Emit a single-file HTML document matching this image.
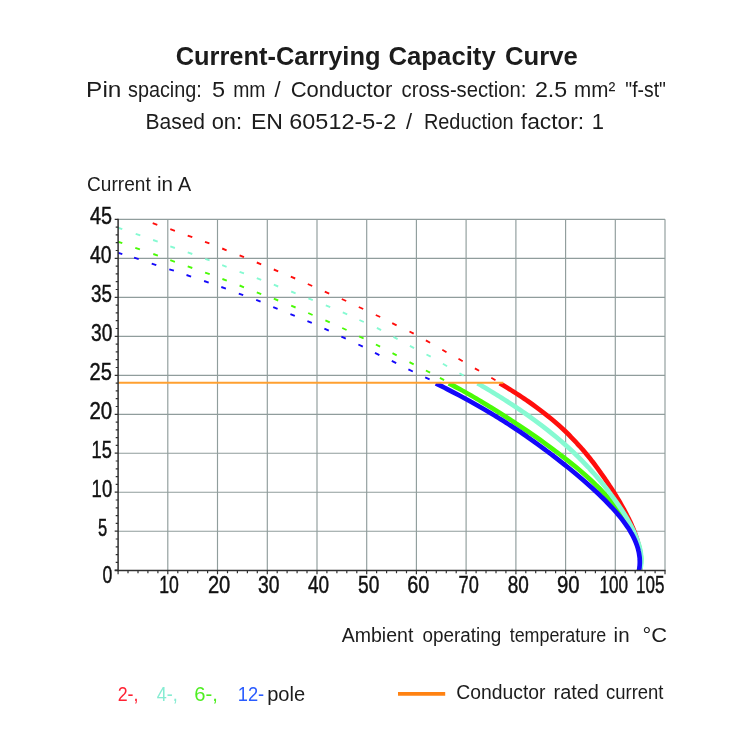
<!DOCTYPE html>
<html lang="en"><head><meta charset="utf-8"><title>Current-Carrying Capacity Curve</title>
<style>html,body{margin:0;padding:0;background:#fff}svg{display:block}text{font-family:"Liberation Sans",sans-serif;fill:#1c1c1c}.n{fill:#111;stroke:#111;stroke-width:.45px}</style></head><body>
<svg width="750" height="750" viewBox="0 0 750 750">
<rect width="750" height="750" fill="#fff"/>
<path d="M167.8 219.3V570.6M217.5 219.3V570.6M267.3 219.3V570.6M317.0 219.3V570.6M366.7 219.3V570.6M416.4 219.3V570.6M466.1 219.3V570.6M515.9 219.3V570.6M565.6 219.3V570.6M615.3 219.3V570.6M665.0 219.3V570.6M118.1 531.2H665.0M118.1 492.2H665.0M118.1 453.2H665.0M118.1 414.3H665.0M118.1 375.3H665.0M118.1 336.3H665.0M118.1 297.3H665.0M118.1 258.3H665.0M118.1 219.3H665.0" stroke="#909d9c" stroke-width="1.15" fill="none"/>
<clipPath id="c"><rect x="118.1" y="219.3" width="546.9" height="351.3"/></clipPath>
<g clip-path="url(#c)">
<path d="M152.7 223.2L157.3 224.8M170.3 229.2L174.9 230.8M187.7 235.6L192.3 237.2M205.0 241.8L209.4 243.4M222.2 248.5L226.6 250.3M239.6 255.3L244.0 257.1M256.8 262.5L261.2 264.3M273.8 269.5L278.2 271.3M290.8 276.7L295.2 278.5M307.8 284.0L312.2 286.0M324.8 291.6L329.2 293.6M341.8 299.0L346.2 301.0M358.8 307.0L363.2 309.0M375.8 315.0L380.2 317.0M392.2 323.1L396.6 325.3M409.5 331.5L413.7 333.7M425.9 340.4L430.1 342.8M442.3 349.8L446.5 352.2M458.5 358.8L462.7 361.2M474.9 368.4L479.1 370.8M491.3 377.8L495.5 380.2" stroke="#ff0e0c" stroke-width="1.9" fill="none"/>
<path d="M117.7 227.6L122.3 229.2M135.7 233.8L140.3 235.4M153.1 240.0L157.7 241.6M170.3 246.4L174.9 248.0M187.7 252.4L192.3 254.0M205.2 258.8L209.6 260.4M222.2 265.2L226.6 266.8M239.6 271.8L244.0 273.4M256.8 278.1L261.2 279.9M273.8 284.7L278.2 286.5M291.2 291.5L295.6 293.3M308.4 298.3L312.8 300.1M325.8 305.3L330.2 307.1M342.8 312.4L347.2 314.4M359.4 320.0L363.8 322.0M376.9 327.9L381.1 330.1M393.4 336.9L397.6 339.1M409.9 345.9L414.1 348.1M426.5 354.5L430.7 356.7M442.9 363.8L447.1 366.2M459.5 373.2L463.7 375.6" stroke="#86fad2" stroke-width="1.9" fill="none"/>
<path d="M117.7 241.6L122.3 243.2M135.3 247.8L139.9 249.4M153.3 254.0L157.9 255.6M170.3 260.2L174.9 261.8M187.7 266.4L192.3 268.0M205.1 272.6L209.7 274.2M222.4 279.0L226.8 280.6M239.6 285.5L244.0 287.3M256.8 292.3L261.2 294.1M273.8 298.7L278.2 300.5M291.2 305.7L295.6 307.5M308.2 313.0L312.6 315.0M325.4 320.4L329.8 322.4M342.2 328.0L346.6 330.0M359.2 336.3L363.6 338.5M375.9 344.5L380.1 346.7M392.5 353.1L396.7 355.3M409.5 362.1L413.7 364.3M425.9 370.5L430.1 372.7M439.9 377.9L444.1 380.1" stroke="#4afa06" stroke-width="1.9" fill="none"/>
<path d="M117.7 252.7L122.3 254.1M134.1 257.7L138.7 259.1M151.7 263.6L156.3 265.2M169.3 269.3L173.9 270.7M186.5 275.0L191.1 276.6M204.1 281.0L208.7 282.6M221.3 287.0L225.9 288.6M238.8 293.6L243.2 295.2M256.2 299.9L260.6 301.7M273.2 307.1L277.6 308.9M290.4 314.1L294.8 315.9M307.4 321.1L311.8 322.9M324.4 328.6L328.8 330.6M341.4 336.6L345.8 338.6M358.4 344.5L362.8 346.7M375.0 352.9L379.4 355.1M391.8 360.9L396.2 363.1M408.4 369.3L412.8 371.5M425.2 377.4L429.6 379.4" stroke="#1408fa" stroke-width="1.9" fill="none"/>
</g>
<clipPath id="s"><rect x="118.1" y="382.4" width="546.9" height="188.2"/></clipPath>
<g clip-path="url(#s)">
<path d="M499.8 383.3C501.4 384.3 506.4 387.3 509.6 389.3C512.9 391.3 516.0 393.3 519.1 395.3C522.1 397.3 525.1 399.3 528.0 401.3C530.9 403.3 533.7 405.3 536.5 407.3C539.2 409.3 541.8 411.3 544.4 413.3C547.0 415.3 549.4 417.3 551.8 419.3C554.2 421.3 556.5 423.3 558.8 425.3C561.0 427.3 563.2 429.3 565.3 431.3C567.4 433.3 569.4 435.3 571.3 437.3C573.3 439.3 575.2 441.3 577.0 443.3C578.9 445.3 580.6 447.3 582.4 449.3C584.1 451.3 585.8 453.3 587.4 455.3C589.1 457.3 590.7 459.3 592.2 461.3C593.8 463.3 595.3 465.3 596.8 467.3C598.3 469.3 599.7 471.3 601.1 473.3C602.6 475.3 604.0 477.3 605.3 479.3C606.7 481.3 608.0 483.3 609.3 485.3C610.7 487.3 612.0 489.3 613.2 491.3C614.5 493.3 615.7 495.3 616.9 497.3C618.2 499.3 619.3 501.3 620.5 503.3C621.6 505.3 622.8 507.3 623.9 509.3C625.0 511.3 626.0 513.3 627.0 515.3C628.1 517.3 629.0 519.3 630.0 521.3C630.9 523.3 631.8 525.3 632.6 527.3C633.5 529.3 634.3 531.3 635.0 533.3C635.7 535.3 636.4 537.3 637.0 539.3C637.6 541.3 638.2 543.3 638.6 545.3C639.1 547.3 639.5 549.3 639.8 551.3C640.1 553.3 640.3 556.0 640.4 557.3C640.6 558.6 640.5 558.6 640.6 559.3C640.6 560.0 640.6 560.6 640.6 561.3C640.6 562.0 640.6 562.6 640.6 563.3C640.6 564.0 640.6 564.6 640.5 565.3C640.5 566.0 640.4 566.6 640.4 567.3C640.3 568.0 640.3 568.6 640.2 569.3C640.1 570.0 640.0 571.0 639.9 571.3" stroke="#ff0e0c" stroke-width="4.7" fill="none" stroke-linejoin="round"/>
<path d="M448.8 383.3C450.7 384.3 456.4 387.3 460.0 389.3C463.7 391.3 467.2 393.3 470.7 395.3C474.1 397.3 477.5 399.3 480.8 401.3C484.2 403.3 487.4 405.3 490.7 407.3C493.9 409.3 497.1 411.3 500.3 413.3C503.4 415.3 506.5 417.3 509.6 419.3C512.7 421.3 515.7 423.3 518.7 425.3C521.7 427.3 524.7 429.3 527.7 431.3C530.6 433.3 533.5 435.3 536.4 437.3C539.3 439.3 542.1 441.3 544.9 443.3C547.7 445.3 550.4 447.3 553.1 449.3C555.8 451.3 558.5 453.3 561.1 455.3C563.7 457.3 566.3 459.3 568.8 461.3C571.3 463.3 573.8 465.3 576.2 467.3C578.6 469.3 580.9 471.3 583.2 473.3C585.5 475.3 587.7 477.3 589.9 479.3C592.1 481.3 594.2 483.3 596.2 485.3C598.3 487.3 600.3 489.3 602.2 491.3C604.1 493.3 606.0 495.3 607.8 497.3C609.6 499.3 611.4 501.3 613.1 503.3C614.8 505.3 616.4 507.3 617.9 509.3C619.5 511.3 621.0 513.3 622.4 515.3C623.9 517.3 625.3 519.3 626.6 521.3C627.9 523.3 629.1 525.3 630.3 527.3C631.4 529.3 632.5 531.3 633.5 533.3C634.5 535.3 635.5 537.3 636.3 539.3C637.2 541.3 637.9 543.3 638.6 545.3C639.2 547.3 639.7 549.3 640.1 551.3C640.5 553.3 640.8 556.0 640.9 557.3C641.1 558.6 641.0 558.6 641.0 559.3C641.0 560.0 641.0 560.6 640.9 561.3C640.9 562.0 640.8 562.6 640.8 563.3C640.7 564.0 640.6 564.6 640.5 565.3C640.3 566.0 640.2 566.6 640.0 567.3C639.8 568.0 639.7 568.6 639.4 569.3C639.2 570.0 638.8 571.0 638.7 571.3" stroke="#4afa06" stroke-width="4.7" fill="none" stroke-linejoin="round"/>
<path d="M477.6 383.3C479.2 384.3 484.3 387.3 487.6 389.3C490.9 391.3 494.2 393.3 497.4 395.3C500.7 397.3 503.8 399.3 506.9 401.3C510.0 403.3 513.1 405.3 516.1 407.3C519.1 409.3 522.0 411.3 524.9 413.3C527.8 415.3 530.6 417.3 533.4 419.3C536.1 421.3 538.8 423.3 541.5 425.3C544.1 427.3 546.7 429.3 549.2 431.3C551.7 433.3 554.1 435.3 556.5 437.3C558.9 439.3 561.3 441.3 563.5 443.3C565.8 445.3 568.0 447.3 570.2 449.3C572.4 451.3 574.5 453.3 576.5 455.3C578.6 457.3 580.6 459.3 582.6 461.3C584.5 463.3 586.4 465.3 588.3 467.3C590.1 469.3 592.0 471.3 593.7 473.3C595.5 475.3 597.2 477.3 598.9 479.3C600.6 481.3 602.3 483.3 603.9 485.3C605.5 487.3 607.0 489.3 608.6 491.3C610.1 493.3 611.6 495.3 613.0 497.3C614.5 499.3 615.9 501.3 617.3 503.3C618.7 505.3 620.0 507.3 621.3 509.3C622.6 511.3 623.9 513.3 625.1 515.3C626.3 517.3 627.5 519.3 628.6 521.3C629.7 523.3 630.8 525.3 631.8 527.3C632.8 529.3 633.8 531.3 634.6 533.3C635.5 535.3 636.4 537.3 637.1 539.3C637.8 541.3 638.5 543.3 639.1 545.3C639.7 547.3 640.1 549.3 640.5 551.3C640.9 553.3 641.1 556.0 641.3 557.3C641.4 558.6 641.3 558.6 641.3 559.3C641.3 560.0 641.3 560.6 641.3 561.3C641.3 562.0 641.3 562.6 641.2 563.3C641.2 564.0 641.1 564.6 641.0 565.3C640.9 566.0 640.8 566.6 640.7 567.3C640.5 568.0 640.4 568.6 640.2 569.3C640.0 570.0 639.7 571.0 639.6 571.3" stroke="#86fad2" stroke-width="4.7" fill="none" stroke-linejoin="round"/>
<path d="M435.9 383.3C437.8 384.3 443.8 387.3 447.6 389.3C451.5 391.3 455.3 393.3 459.0 395.3C462.7 397.3 466.4 399.3 470.0 401.3C473.6 403.3 477.1 405.3 480.6 407.3C484.1 409.3 487.5 411.3 490.8 413.3C494.1 415.3 497.4 417.3 500.6 419.3C503.8 421.3 507.0 423.3 510.1 425.3C513.1 427.3 516.2 429.3 519.2 431.3C522.1 433.3 525.1 435.3 527.9 437.3C530.8 439.3 533.6 441.3 536.4 443.3C539.2 445.3 541.9 447.3 544.6 449.3C547.3 451.3 550.0 453.3 552.6 455.3C555.2 457.3 557.8 459.3 560.3 461.3C562.9 463.3 565.4 465.3 567.8 467.3C570.3 469.3 572.7 471.3 575.1 473.3C577.5 475.3 579.9 477.3 582.2 479.3C584.5 481.3 586.8 483.3 589.0 485.3C591.3 487.3 593.5 489.3 595.6 491.3C597.8 493.3 599.9 495.3 601.9 497.3C604.0 499.3 606.0 501.3 607.9 503.3C609.8 505.3 611.7 507.3 613.5 509.3C615.3 511.3 617.1 513.3 618.7 515.3C620.4 517.3 622.0 519.3 623.5 521.3C625.0 523.3 626.4 525.3 627.8 527.3C629.1 529.3 630.3 531.3 631.4 533.3C632.6 535.3 633.6 537.3 634.5 539.3C635.4 541.3 636.2 543.3 636.9 545.3C637.6 547.3 638.2 549.3 638.6 551.3C639.1 553.3 639.4 556.0 639.6 557.3C639.8 558.6 639.7 558.6 639.7 559.3C639.8 560.0 639.8 560.6 639.8 561.3C639.8 562.0 639.8 562.6 639.8 563.3C639.7 564.0 639.7 564.6 639.7 565.3C639.6 566.0 639.5 566.6 639.5 567.3C639.4 568.0 639.3 568.6 639.2 569.3C639.1 570.0 638.9 571.0 638.8 571.3" stroke="#1408fa" stroke-width="4.7" fill="none" stroke-linejoin="round"/>
</g>
<path d="M118.1 382.7H503.3" stroke="#ffa030" stroke-width="2.1" fill="none"/>
<path d="M114.7 570.2H118.1M115.7 562.4H118.1M115.7 554.6H118.1M115.7 546.8H118.1M115.7 539.0H118.1M114.7 531.2H118.1M115.7 523.4H118.1M115.7 515.6H118.1M115.7 507.8H118.1M115.7 500.0H118.1M114.7 492.2H118.1M115.7 484.4H118.1M115.7 476.6H118.1M115.7 468.8H118.1M115.7 461.0H118.1M114.7 453.2H118.1M115.7 445.4H118.1M115.7 437.7H118.1M115.7 429.9H118.1M115.7 422.1H118.1M114.7 414.3H118.1M115.7 406.5H118.1M115.7 398.7H118.1M115.7 390.9H118.1M115.7 383.1H118.1M114.7 375.3H118.1M115.7 367.5H118.1M115.7 359.7H118.1M115.7 351.9H118.1M115.7 344.1H118.1M114.7 336.3H118.1M115.7 328.5H118.1M115.7 320.7H118.1M115.7 312.9H118.1M115.7 305.1H118.1M114.7 297.3H118.1M115.7 289.5H118.1M115.7 281.7H118.1M115.7 273.9H118.1M115.7 266.1H118.1M114.7 258.3H118.1M115.7 250.5H118.1M115.7 242.7H118.1M115.7 234.9H118.1M115.7 227.1H118.1M114.7 219.3H118.1M118.1 570.6V574.2M128.0 570.6V573.2M138.0 570.6V573.2M147.9 570.6V573.2M157.9 570.6V573.2M167.8 570.6V574.2M177.8 570.6V573.2M187.7 570.6V573.2M197.7 570.6V573.2M207.6 570.6V573.2M217.5 570.6V574.2M227.5 570.6V573.2M237.4 570.6V573.2M247.4 570.6V573.2M257.3 570.6V573.2M267.3 570.6V574.2M277.2 570.6V573.2M287.1 570.6V573.2M297.1 570.6V573.2M307.0 570.6V573.2M317.0 570.6V574.2M326.9 570.6V573.2M336.9 570.6V573.2M346.8 570.6V573.2M356.8 570.6V573.2M366.7 570.6V574.2M376.6 570.6V573.2M386.6 570.6V573.2M396.5 570.6V573.2M406.5 570.6V573.2M416.4 570.6V574.2M426.4 570.6V573.2M436.3 570.6V573.2M446.3 570.6V573.2M456.2 570.6V573.2M466.1 570.6V574.2M476.1 570.6V573.2M486.0 570.6V573.2M496.0 570.6V573.2M505.9 570.6V573.2M515.9 570.6V574.2M525.8 570.6V573.2M535.7 570.6V573.2M545.7 570.6V573.2M555.6 570.6V573.2M565.6 570.6V574.2M575.5 570.6V573.2M585.5 570.6V573.2M595.4 570.6V573.2M605.4 570.6V573.2M615.3 570.6V574.2M625.2 570.6V573.2M635.2 570.6V573.2M645.1 570.6V573.2M655.1 570.6V573.2M665.0 570.6V574.2" stroke="#303030" stroke-width="1.2" fill="none"/>
<path d="M118.1 218.7V571.4M114.7 570.6H665.6" stroke="#303030" stroke-width="1.5" fill="none"/>
<text class="n" x="90.0" y="224.1" font-size="24" textLength="22.0" lengthAdjust="spacingAndGlyphs">45</text>
<text class="n" x="90.0" y="263.1" font-size="24" textLength="21.6" lengthAdjust="spacingAndGlyphs">40</text>
<text class="n" x="91.0" y="302.1" font-size="24" textLength="20.9" lengthAdjust="spacingAndGlyphs">35</text>
<text class="n" x="91.0" y="341.1" font-size="24" textLength="21.3" lengthAdjust="spacingAndGlyphs">30</text>
<text class="n" x="89.6" y="380.1" font-size="24" textLength="22.3" lengthAdjust="spacingAndGlyphs">25</text>
<text class="n" x="89.5" y="419.1" font-size="24" textLength="22.7" lengthAdjust="spacingAndGlyphs">20</text>
<text class="n" x="91.6" y="458.0" font-size="24" textLength="20.2" lengthAdjust="spacingAndGlyphs">15</text>
<text class="n" x="91.6" y="497.0" font-size="24" textLength="20.6" lengthAdjust="spacingAndGlyphs">10</text>
<text class="n" x="98.0" y="536.0" font-size="24" textLength="9.2" lengthAdjust="spacingAndGlyphs">5</text>
<text class="n" x="102.5" y="582.6" font-size="24" textLength="9.8" lengthAdjust="spacingAndGlyphs">0</text>
<text class="n" x="159.3" y="592.9" font-size="24" textLength="19.6" lengthAdjust="spacingAndGlyphs">10</text>
<text class="n" x="207.9" y="592.9" font-size="24" textLength="22.4" lengthAdjust="spacingAndGlyphs">20</text>
<text class="n" x="258.0" y="592.9" font-size="24" textLength="21.5" lengthAdjust="spacingAndGlyphs">30</text>
<text class="n" x="308.0" y="592.9" font-size="24" textLength="21.1" lengthAdjust="spacingAndGlyphs">40</text>
<text class="n" x="358.0" y="592.9" font-size="24" textLength="21.3" lengthAdjust="spacingAndGlyphs">50</text>
<text class="n" x="407.2" y="592.9" font-size="24" textLength="22.1" lengthAdjust="spacingAndGlyphs">60</text>
<text class="n" x="458.6" y="592.9" font-size="24" textLength="20.2" lengthAdjust="spacingAndGlyphs">70</text>
<text class="n" x="507.8" y="592.9" font-size="24" textLength="21.1" lengthAdjust="spacingAndGlyphs">80</text>
<text class="n" x="556.9" y="592.9" font-size="24" textLength="22.6" lengthAdjust="spacingAndGlyphs">90</text>
<text class="n" x="599.4" y="592.9" font-size="24" textLength="28.6" lengthAdjust="spacingAndGlyphs">100</text>
<text class="n" x="636.0" y="592.9" font-size="24" textLength="28.4" lengthAdjust="spacingAndGlyphs">105</text>
<text y="64.6" font-size="25.5" font-weight="bold"><tspan x="175.7" textLength="204.8" lengthAdjust="spacingAndGlyphs">Current-Carrying</tspan> <tspan x="388.5" textLength="107.2" lengthAdjust="spacingAndGlyphs">Capacity</tspan> <tspan x="505.0" textLength="72.8" lengthAdjust="spacingAndGlyphs">Curve</tspan></text>
<text y="96.8" font-size="22"><tspan x="86.1" textLength="35.3" lengthAdjust="spacingAndGlyphs">Pin</tspan> <tspan x="128.0" textLength="73.8" lengthAdjust="spacingAndGlyphs">spacing:</tspan> <tspan x="212.0" textLength="13.1" lengthAdjust="spacingAndGlyphs">5</tspan> <tspan x="233.2" textLength="32.3" lengthAdjust="spacingAndGlyphs">mm</tspan> <tspan x="274.5">/</tspan> <tspan x="290.7" textLength="101.6" lengthAdjust="spacingAndGlyphs">Conductor</tspan> <tspan x="401.6" textLength="124.7" lengthAdjust="spacingAndGlyphs">cross-section:</tspan> <tspan x="534.9" textLength="32.3" lengthAdjust="spacingAndGlyphs">2.5</tspan> <tspan x="574.1" textLength="41.2" lengthAdjust="spacingAndGlyphs">mm²</tspan> <tspan x="625.3" textLength="40.6" lengthAdjust="spacingAndGlyphs">"f-st"</tspan></text>
<text y="128.8" font-size="22"><tspan x="145.4" textLength="59.7" lengthAdjust="spacingAndGlyphs">Based</tspan> <tspan x="211.7" textLength="30.4" lengthAdjust="spacingAndGlyphs">on:</tspan> <tspan x="251.0" textLength="32.0" lengthAdjust="spacingAndGlyphs">EN</tspan> <tspan x="289.3" textLength="106.9" lengthAdjust="spacingAndGlyphs">60512-5-2</tspan> <tspan x="405.9">/</tspan> <tspan x="423.9" textLength="89.7" lengthAdjust="spacingAndGlyphs">Reduction</tspan> <tspan x="520.8" textLength="63.4" lengthAdjust="spacingAndGlyphs">factor:</tspan> <tspan x="591.7">1</tspan></text>
<text y="190.6" font-size="19.6"><tspan x="87.1" textLength="63.6" lengthAdjust="spacingAndGlyphs">Current</tspan> <tspan x="157.0" textLength="16.0" lengthAdjust="spacingAndGlyphs">in</tspan> <tspan x="178.0" textLength="13.2" lengthAdjust="spacingAndGlyphs">A</tspan></text>
<text y="641.6" font-size="19.6"><tspan x="341.7" textLength="71.7" lengthAdjust="spacingAndGlyphs">Ambient</tspan> <tspan x="422.4" textLength="78.8" lengthAdjust="spacingAndGlyphs">operating</tspan> <tspan x="509.7" textLength="96.4" lengthAdjust="spacingAndGlyphs">temperature</tspan> <tspan x="613.6" textLength="16.0" lengthAdjust="spacingAndGlyphs">in</tspan> <tspan x="642.5" textLength="24.6" lengthAdjust="spacingAndGlyphs">°C</tspan></text>
<text y="700.8" font-size="19.6"><tspan fill="#ff2233" x="117.7" textLength="20.8" lengthAdjust="spacingAndGlyphs">2-,</tspan> <tspan fill="#86ecd2" x="156.7" textLength="21.0" lengthAdjust="spacingAndGlyphs">4-,</tspan> <tspan fill="#4eee22" x="194.3" textLength="23.6" lengthAdjust="spacingAndGlyphs">6-,</tspan> <tspan fill="#2a5cff" x="237.7" textLength="26.5" lengthAdjust="spacingAndGlyphs">12-</tspan><tspan x="267.2" textLength="38.0" lengthAdjust="spacingAndGlyphs">pole</tspan></text>
<path d="M398 693.8H445.2" stroke="#ff8212" stroke-width="3.8" fill="none"/>
<text y="699.2" font-size="19.6"><tspan x="456.2" textLength="89.3" lengthAdjust="spacingAndGlyphs">Conductor</tspan> <tspan x="553.5" textLength="45.4" lengthAdjust="spacingAndGlyphs">rated</tspan> <tspan x="606.0" textLength="57.5" lengthAdjust="spacingAndGlyphs">current</tspan></text>
</svg></body></html>
